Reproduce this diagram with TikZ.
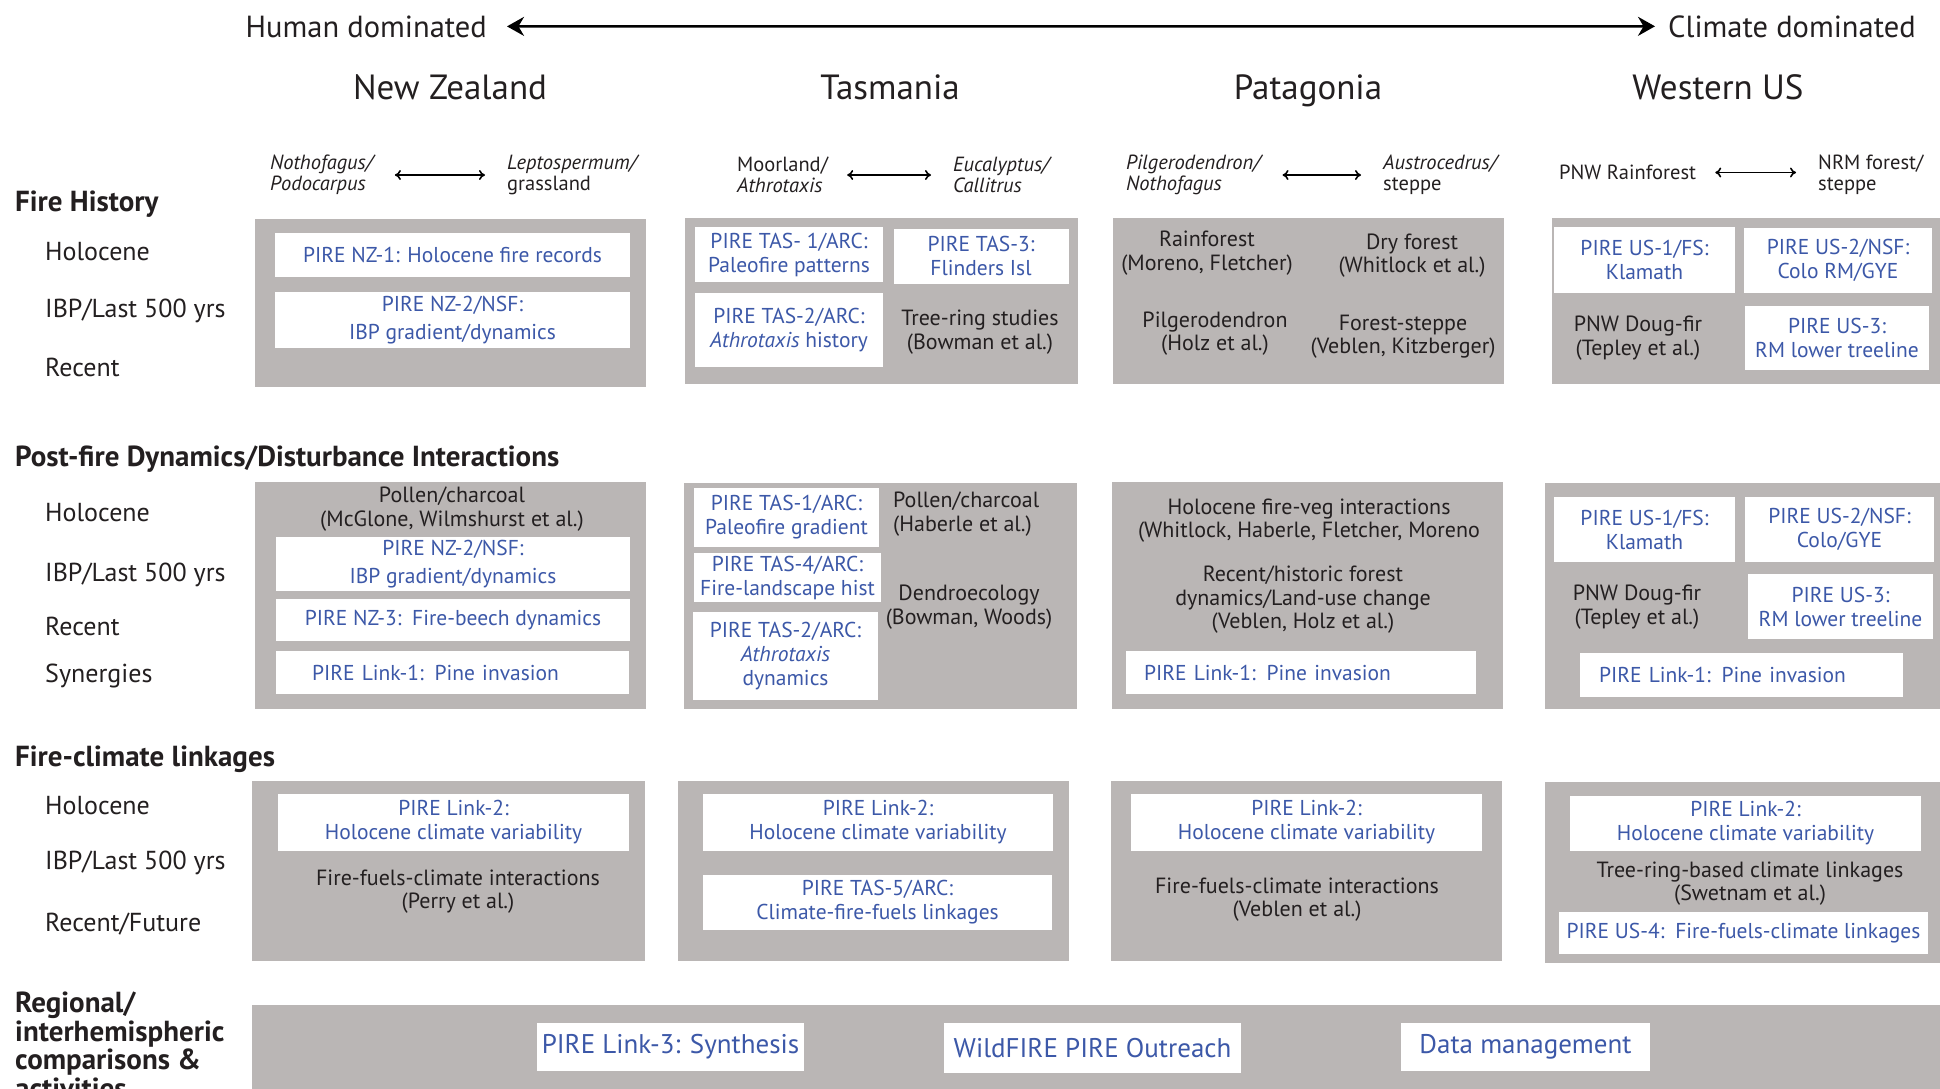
\documentclass[tikz,border=0pt]{standalone}
\usepackage{fontspec}
\setmainfont{PT Sans}
\usetikzlibrary{arrows.meta}
\definecolor{panelgrey}{RGB}{186,182,181}
\definecolor{pireblue}{RGB}{60,88,168}
\definecolor{inkblack}{RGB}{35,31,32}

\begin{document}
\begin{tikzpicture}[x=1pt, y=-1pt, inner sep=0pt, text=inkblack,
  panel/.style={fill=panelgrey},
  pire/.style 2 args={fill=white, text=pireblue, align=center, minimum width=#1pt, minimum height=#2pt, font=\fontsize{21.5}{24}\selectfont},
  pireleft/.style={align=left, text width=#1pt},
  bigpire/.style 2 args={pire={#1}{#2}, font=\fontsize{27}{30}\selectfont},
  note/.style={align=center, font=\fontsize{22}{23.5}\selectfont},
  rowlab/.style={anchor=base west, font=\fontsize{26}{30}\selectfont},
  sect/.style={anchor=base west, align=left, font=\bfseries\fontsize{29}{28.5}\selectfont},
  region/.style={anchor=base, font=\fontsize{35}{40}\selectfont},
  span/.style={anchor=base, font=\fontsize{30.5}{36}\selectfont},
  veg/.style={anchor=west, align=left, font=\fontsize{20.5}{21}\selectfont},
  vegarrow/.style={{To[length=6pt,width=10pt]}-{To[length=6pt,width=10pt]}, line width=1.6pt, shorten <=19pt, shorten >=22pt}
]
\useasboundingbox (0,0) rectangle (1940,1088);

\node[span, anchor=base east] (human) at (487,37) {Human dominated};
\node[span, anchor=base west] (climate) at (1668,37) {Climate dominated};
\draw[line width=2.5pt, {Stealth[length=17pt,width=19pt]}-{Stealth[length=17pt,width=19pt]}, shorten <=20pt, shorten >=13pt] (human.east) -- (climate.west);

\node[region] (nz) at (450,99) {New Zealand};
\node[region] (tas) at (890,99) {Tasmania};
\node[region] (pat) at (1308,99) {Patagonia};
\node[region] (wus) at (1718,99) {Western US};

\node[veg] (nzleft) at (270,175) {\textit{Nothofagus/}\\\textit{Podocarpus}};
\node[veg] (nzright) at (507,175) {\textit{Leptospermum/}\\grassland};
\node[veg] (tasleft) at (737,175) {Moorland/\\\textit{Athrotaxis}};
\node[veg] (tasright) at (953,175) {\textit{Eucalyptus/}\\\textit{Callitrus}};
\node[veg] (patleft) at (1126,175) {\textit{Pilgerodendron/}\\\textit{Nothofagus}};
\node[veg] (patright) at (1383,175) {\textit{Austrocedrus/}\\steppe};
\node[veg] (usleft) at (1559,172.5) {PNW Rainforest};
\node[veg] (usright) at (1818,175) {NRM forest/\\steppe};
\draw[vegarrow] (nzleft.east) -- (nzright.west);
\draw[vegarrow] (tasleft.east) -- (tasright.west);
\draw[vegarrow] (patleft.east) -- (patright.west);
\draw[vegarrow] (usleft.east) -- (usright.west |- usleft.east);

\node[sect] (firehist) at (15,211) {Fire History};
\node[rowlab] (fhholo) at (45,260) {Holocene};
\node[rowlab] (fhibp) at (45,317) {IBP/Last 500 yrs};
\node[rowlab] (fhrecent) at (45,376) {Recent};

\fill[panel] (255,219) rectangle (646,387);
\fill[panel] (685,218) rectangle (1078,384);
\fill[panel] (1113,218) rectangle (1504,384);
\fill[panel] (1552,218) rectangle (1940,384);

\node[pire={355}{44}] (nzone) at (452.5,255) {PIRE NZ-1: Holocene fire records};
\node[pire={355}{56}, font=\fontsize{21.5}{28}\selectfont] (nztwo) at (452.5,320) {PIRE NZ-2/NSF:\\IBP gradient/dynamics};
\node[pire={188}{55}] (tasone) at (789,254.5) {PIRE TAS- 1/ARC:\\Paleofire patterns};
\node[pire={175}{55}] (tasthree) at (981,256) {PIRE TAS-3:\\Flinders Isl};
\node[pire={188}{74}] (tastwo) at (789,330) {PIRE TAS-2/ARC:\\\textit{Athrotaxis} history};
\node[note] (tasrings) at (980,332) {Tree-ring studies\\(Bowman et al.)};
\node[note] (patrain) at (1207,253) {Rainforest\\(Moreno, Fletcher)};
\node[note] (patdry) at (1412,255.5) {Dry forest\\(Whitlock et al.)};
\node[note] (patpilg) at (1215,333.5) {Pilgerodendron\\(Holz et al.)};
\node[note] (patsteppe) at (1403,336.5) {Forest-steppe\\(Veblen, Kitzberger)};
\node[pire={181}{66}] (usone) at (1644.5,260) {PIRE US-1/FS:\\Klamath};
\node[pire={188}{65}] (ustwo) at (1838,260.5) {PIRE US-2/NSF:\\Colo RM/GYE};
\node[note] (usdoug) at (1638,338) {PNW Doug-fir\\(Tepley et al.)};
\node[pire={184}{64}] (usthree) at (1837,338) {PIRE US-3:\\RM lower treeline};

\node[sect] (postfire) at (15,466) {Post-fire Dynamics/Disturbance Interactions};
\node[rowlab] (pfholo) at (45,521) {Holocene};
\node[rowlab] (pfibp) at (45,581) {IBP/Last 500 yrs};
\node[rowlab] (pfrecent) at (45,635) {Recent};
\node[rowlab] (pfsyn) at (45,682) {Synergies};

\fill[panel] (255,482) rectangle (646,709);
\fill[panel] (684,483) rectangle (1077,709);
\fill[panel] (1112,482) rectangle (1503,709);
\fill[panel] (1545,483) rectangle (1940,709);

\node[note] (nzpollen) at (452,509) {Pollen/charcoal\\(McGlone, Wilmshurst et al.)};
\node[pire={354}{54}, font=\fontsize{21.5}{28}\selectfont] (nzgrad) at (453,564) {PIRE NZ-2/NSF:\\IBP gradient/dynamics};
\node[pire={354}{42}] (nzbeech) at (453,620) {PIRE NZ-3:\enspace Fire-beech dynamics};
\node[pire={353}{43}, pireleft=281] (nzpine) at (452.5,672.5) {PIRE Link-1: Pine invasion};
\node[pire={185}{59}] (tasgrad) at (786.5,517.5) {PIRE TAS-1/ARC:\\Paleofire gradient};
\node[pire={187}{49}] (tasland) at (787.5,577.5) {PIRE TAS-4/ARC:\\Fire-landscape hist};
\node[pire={185}{88}] (tasdyn) at (785.5,656) {PIRE TAS-2/ARC:\\\textit{Athrotaxis}\\dynamics};
\node[note, anchor=west, align=left] (taspollen) at (893,514) {Pollen/charcoal\\(Haberle et al.)};
\node[note] (tasdendro) at (969,607) {Dendroecology\\(Bowman, Woods)};
\node[note] (patveg) at (1309,520.5) {Holocene fire-veg interactions\\(Whitlock, Haberle, Fletcher, Moreno};
\node[note] (patland) at (1303,600) {Recent/historic forest\\dynamics/Land-use change\\(Veblen, Holz et al.)};
\node[pire={350}{43}, pireleft=314] (patpine) at (1301,672.5) {PIRE Link-1: Pine invasion};
\node[pire={181}{65}] (usklam) at (1644.5,529.5) {PIRE US-1/FS:\\Klamath};
\node[pire={189}{65}] (uscolo) at (1839.5,529.5) {PIRE US-2/NSF:\\Colo/GYE};
\node[note] (usfir) at (1637,607) {PNW Doug-fir\\(Tepley et al.)};
\node[pire={185}{65}] (ustree) at (1840.5,606.5) {PIRE US-3:\\RM lower treeline};
\node[pire={323}{44}, pireleft=285] (uspine) at (1741.5,675) {PIRE Link-1: Pine invasion};

\node[sect] (fireclim) at (15,766) {Fire-climate linkages};
\node[rowlab] (fcholo) at (45,814) {Holocene};
\node[rowlab] (fcibp) at (45,869) {IBP/Last 500 yrs};
\node[rowlab] (fcfuture) at (45,931) {Recent/Future};

\fill[panel] (252,781) rectangle (645,961);
\fill[panel] (678,781) rectangle (1069,961);
\fill[panel] (1111,781) rectangle (1502,961);
\fill[panel] (1545,782) rectangle (1940,963);

\node[pire={351}{57}] (nzclim) at (453.5,822.5) {PIRE Link-2:\\Holocene climate variability};
\node[note] (nzperry) at (458,891.5) {Fire-fuels-climate interactions\\(Perry et al.)};
\node[pire={350}{57}] (tasclim) at (878,822.5) {PIRE Link-2:\\Holocene climate variability};
\node[pire={349}{55}] (tasfuel) at (877.5,902.5) {PIRE TAS-5/ARC:\\Climate-fire-fuels linkages};
\node[pire={351}{57}] (patclim) at (1306.5,822.5) {PIRE Link-2:\\Holocene climate variability};
\node[note] (patveblen) at (1297,899.5) {Fire-fuels-climate interactions\\(Veblen et al.)};
\node[pire={351}{55}] (usclim) at (1745.5,823.5) {PIRE Link-2:\\Holocene climate variability};
\node[note] (usswet) at (1750,883.5) {Tree-ring-based climate linkages\\(Swetnam et al.)};
\node[pire={369}{42}] (usfuel) at (1743.5,933) {PIRE US-4:\enspace Fire-fuels-climate linkages};

\node[sect] (regional) at (15,1098) {Regional/\\interhemispheric\\comparisons \&\\activities};
\fill[panel] (252,1005) rectangle (1940,1100);
\node[bigpire={267}{48}] (synth) at (670.5,1047) {PIRE Link-3:\hspace{0.35em}Synthesis};
\node[bigpire={297}{50}] (outreach) at (1092.5,1048) {WildFIRE PIRE Outreach};
\node[bigpire={249}{48}] (datamgmt) at (1525.5,1047) {Data management};
\end{tikzpicture}
\end{document}
